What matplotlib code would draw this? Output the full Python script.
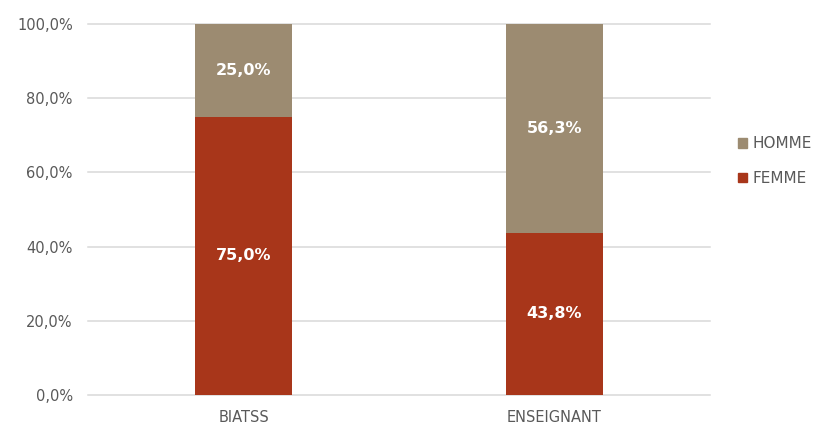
import matplotlib
matplotlib.use("Agg")
import matplotlib.pyplot as plt
from matplotlib.patches import Patch

categories = ["BIATSS", "ENSEIGNANT"]
femme = [75.0, 43.8]
homme = [25.0, 56.3]
femme_labels = ["75,0%", "43,8%"]
homme_labels = ["25,0%", "56,3%"]
yticks = [0, 20, 40, 60, 80, 100]
ytick_labels = ["0,0%", "20,0%", "40,0%", "60,0%", "80,0%", "100,0%"]

c_homme = "#9C8B71"
c_femme = "#A8361A"
txt = "#595959"

plt.rcParams["font.family"] = ["DejaVu Sans"]

fig = plt.figure(figsize=(8.24, 4.25), dpi=100)
ax = fig.add_axes([88/824, 30/425, 622/824, 371/425])
x = list(range(len(categories)))
w = 0.31
ax.bar(x, femme, w, color=c_femme, zorder=3)
ax.bar(x, homme, w, bottom=femme, color=c_homme, zorder=3)

for i in x:
    ax.text(i, femme[i] / 2, femme_labels[i], ha="center", va="center",
            color="white", fontsize=11.5, fontweight="bold", zorder=4)
    ax.text(i, femme[i] + homme[i] / 2, homme_labels[i], ha="center", va="center",
            color="white", fontsize=11.5, fontweight="bold", zorder=4)

ax.set_xlim(-0.5, 1.5)
ax.set_ylim(0, 100)
ax.set_yticks(yticks)
ax.set_yticklabels(ytick_labels)
ax.set_xticks(x)
ax.set_xticklabels(categories)
ax.tick_params(axis="both", length=0, colors=txt, labelsize=10.5)
ax.tick_params(axis="y", pad=11)
ax.tick_params(axis="x", pad=11)
ax.grid(axis="y", color="#D9D9D9", linewidth=1.1, zorder=0)
ax.grid(axis="x", visible=False)
for gl in ax.get_ygridlines():
    gl.set_clip_on(False)
for s in ax.spines.values():
    s.set_visible(False)

handles = [Patch(color=c_homme, label="HOMME"), Patch(color=c_femme, label="FEMME")]
fig.legend(handles=handles, loc="center left", bbox_to_anchor=(724/824, 1 - 161/425),
           frameon=False, fontsize=11, labelcolor=txt, handlelength=0.6, handleheight=0.6,
           handletextpad=0.35, labelspacing=1.3)

fig.savefig("out.png", dpi=100)
